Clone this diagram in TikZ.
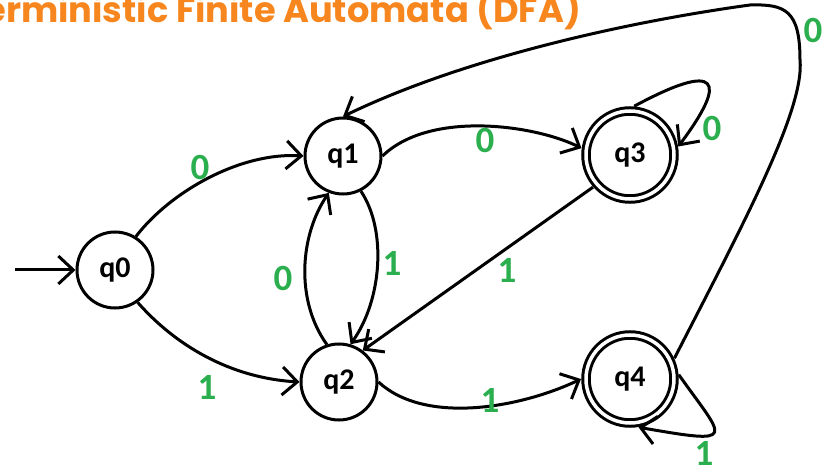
\documentclass[tikz,border=0pt]{standalone}
\usepackage{fontspec}
\setmainfont{Carlito}
\newfontfamily\titlefont{Poppins}
\usetikzlibrary{arrows.meta}
\definecolor{dfaorange}{HTML}{F7861E}
\definecolor{dfagreen}{HTML}{2BAE4E}
\begin{document}
\begin{tikzpicture}[x=1pt,y=-1pt,
  state/.style={circle,draw,line width=3pt,minimum size=76pt,inner sep=0pt,
    font=\fontsize{30}{32}\selectfont\bfseries},
  accept/.style={state,double,double distance=3.5pt,minimum size=88pt,outer sep=5pt},
  trans/.style={line width=3pt,-{Straight Barb[length=15pt,width=28pt]}},
  lbl/.style={text=dfagreen,font=\fontsize{37}{39}\selectfont\bfseries},
]
\useasboundingbox (0,0) rectangle (831,473);
\clip (0,0) rectangle (831,473);

% title, running off the left edge
\node[anchor=base east,text=dfaorange,inner sep=0pt,
  font=\titlefont\fontsize{35.2}{37}\selectfont\bfseries] (title) at (581,23)
  {Deterministic Finite Automata (DFA)};

% states
\node[state]  (q0) at (115,270) {q0};
\node[state]  (q1) at (343,156) {q1};
\node[state]  (q2) at (339,382) {q2};
\node[accept] (q3) at (630,155) {q3};
\node[accept] (q4) at (630,379) {q4};
\coordinate (start) at (15,270);

% transitions
\draw[trans] (start) -- (q0);
\draw[trans] (q0.58) .. controls (170,192) and (240,152) .. (q1.west);
\draw[trans] (q0.-55) .. controls (175,345) and (230,378) .. (q2.west);
\draw[trans] (q1.east) .. controls (430,110) and (535,125) .. (q3.172);
\draw[trans] (q3.85) .. controls (720,60) and (728,80) .. (q3.10);
\draw[trans] (q1.-63) .. controls (387,230) and (382,300) .. (q2.73);
\draw[trans] (q2.108) .. controls (295,300) and (300,235) .. (q1.249);
\draw[trans] (q3.221) -- (q2.53);
\draw[trans] (q2.east) .. controls (425,425) and (520,408) .. (q4.west);
\draw[trans] (q4.5) .. controls (725,440) and (740,445) .. (q4.-80);
\draw[trans] (q4.25) .. controls (740,230) and (805,110) .. (800,60)
  .. controls (800,10) and (785,4) .. (750,5)
  .. controls (640,20) and (470,55) .. (q1.north);

% input symbols
\node[lbl] (l01)  at (200,167) {0};
\node[lbl] (l02)  at (207,387) {1};
\node[lbl] (l13)  at (485,140) {0};
\node[lbl] (l33)  at (712,128) {0};
\node[lbl] (l12)  at (392,263) {1};
\node[lbl] (l21)  at (283,278) {0};
\node[lbl] (l32)  at (507,270) {1};
\node[lbl] (l24)  at (490,400) {1};
\node[lbl] (l44)  at (704,453) {1};
\node[lbl] (l41)  at (813,30) {0};
\end{tikzpicture}
\end{document}
